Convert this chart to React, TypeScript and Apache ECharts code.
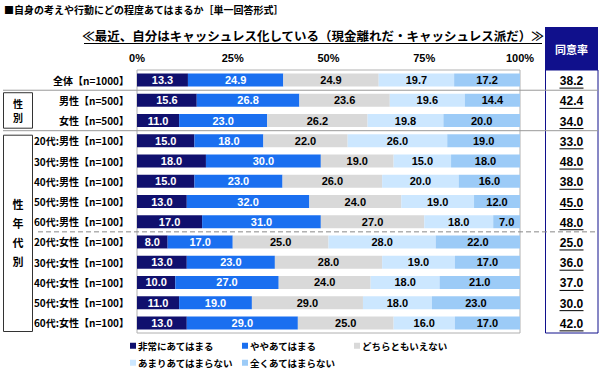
import React, { useEffect, useRef } from "react";
import * as echarts from "echarts";

const categories = [
  "全体【n=1000】",
  "男性【n=500】",
  "女性【n=500】",
  "20代:男性【n=100】",
  "30代:男性【n=100】",
  "40代:男性【n=100】",
  "50代:男性【n=100】",
  "60代:男性【n=100】",
  "20代:女性【n=100】",
  "30代:女性【n=100】",
  "40代:女性【n=100】",
  "50代:女性【n=100】",
  "60代:女性【n=100】",
];

const seriesNames = [
  "非常にあてはまる",
  "ややあてはまる",
  "どちらともいえない",
  "あまりあてはまらない",
  "全くあてはまらない",
];

const veryMuch = [13.3, 15.6, 11.0, 15, 18, 15, 13, 17, 8, 13, 10, 11, 13];
const somewhat = [24.9, 26.8, 23.0, 18, 30, 23, 32, 31, 17, 23, 27, 19, 29];
const neither = [24.9, 23.6, 26.2, 22, 19, 26, 24, 27, 25, 28, 24, 29, 25];
const notMuch = [19.7, 19.6, 19.8, 26, 15, 20, 19, 18, 28, 19, 18, 18, 16];
const notAtAll = [17.2, 14.4, 20.0, 19, 18, 16, 12, 7, 22, 17, 21, 23, 17];
const agreeRate = [38.2, 42.4, 34.0, 33, 48, 38, 45, 48, 25, 36, 37, 30, 42];

const xTicks = [0, 25, 50, 75, 100];

const colors = ["#10106e", "#1a6ff0", "#d9d9d9", "#cce7ff", "#9ccbf7"];
const labelColors = ["#ffffff", "#ffffff", "#000000", "#000000", "#000000"];

const FONT = '"Liberation Sans", "Noto Sans CJK JP", sans-serif';
const JFONT = '"Noto Sans CJK JP", "Liberation Sans", sans-serif';

const GRID_TOP = 70;
const GRID_H = 263;
const GRID_LEFT = 137;
const GRID_W = 383;

export default function App() {
  const ref = useRef<HTMLDivElement>(null);
  useEffect(() => {
    if (!ref.current) return;
    const chart = echarts.init(ref.current, null, { renderer: "svg" });
    const values = [veryMuch, somewhat, neither, notMuch, notAtAll];
    const band = GRID_H / categories.length;

    const barSeries = values.map((arr, i) => ({
      name: seriesNames[i],
      type: "bar",
      stack: "total",
      barWidth: 13,
      xAxisIndex: 0,
      yAxisIndex: 0,
      itemStyle: { color: colors[i] },
      label: {
        show: true,
        position: "inside",
        formatter: (p: any) => Number(p.value).toFixed(1),
        color: labelColors[i],
        fontFamily: FONT,
        fontWeight: "bold",
        fontSize: 11,
      },
      data: arr,
    }));

    const legendPos = [
      { left: 130, top: 341 },
      { left: 242, top: 341 },
      { left: 354, top: 341 },
      { left: 130, top: 358 },
      { left: 242, top: 358 },
    ];
    const legends = seriesNames.map((n, i) => ({
      data: [n],
      left: legendPos[i].left,
      top: legendPos[i].top,
      icon: "rect",
      itemWidth: 6,
      itemHeight: 6,
      padding: 0,
      textStyle: {
        fontFamily: JFONT,
        fontWeight: "bold",
        fontSize: 9.5,
        color: "#000",
        padding: [0, 0, 0, -3],
      },
      selectedMode: false,
    }));

    const sepY1 = GRID_TOP + band;
    const sepY2 = GRID_TOP + band * 3;
    const sepY3 = GRID_TOP + band * 8;

    chart.setOption({
      animation: false,
      grid: [
        {
          left: GRID_LEFT,
          top: GRID_TOP,
          width: GRID_W,
          height: GRID_H,
          show: true,
          borderColor: "#b0b0b0",
          borderWidth: 1,
        },
        { left: 545, top: GRID_TOP, width: 53, height: GRID_H },
      ],
      legend: legends,
      xAxis: [
        {
          type: "value",
          gridIndex: 0,
          position: "top",
          min: xTicks[0],
          max: xTicks[xTicks.length - 1],
          interval: 25,
          axisLabel: {
            formatter: "{value}%",
            fontFamily: FONT,
            fontWeight: "bold",
            fontSize: 11,
            color: "#000",
            margin: 7,
          },
          axisLine: { show: false },
          axisTick: { show: false },
          splitLine: { show: false },
        },
        { type: "value", gridIndex: 1, min: 0, max: 1, show: false },
      ],
      yAxis: [
        {
          type: "category",
          gridIndex: 0,
          inverse: true,
          data: categories,
          axisLabel: {
            fontFamily: JFONT,
            fontWeight: "bold",
            fontSize: 10,
            color: "#000",
            margin: 8,
          },
          axisLine: { show: false },
          axisTick: { show: false },
        },
        {
          type: "category",
          gridIndex: 1,
          inverse: true,
          data: categories,
          show: false,
        },
      ],
      series: [
        ...barSeries,
        {
          type: "custom",
          xAxisIndex: 1,
          yAxisIndex: 1,
          data: agreeRate.map((v, i) => [0.5, i, v]),
          renderItem: (params: any, api: any) => {
            const p = api.coord([api.value(0), api.value(1)]);
            const v = Number(api.value(2));
            return {
              type: "group",
              children: [
                {
                  type: "text",
                  x: p[0],
                  y: p[1] + 1,
                  style: {
                    text: v.toFixed(1),
                    align: "center",
                    verticalAlign: "middle",
                    font: `bold 12px ${FONT}`,
                    fill: "#000",
                  },
                },
                {
                  type: "line",
                  shape: { x1: p[0] - 12, y1: p[1] + 8, x2: p[0] + 12, y2: p[1] + 8 },
                  style: { stroke: "#000", lineWidth: 1 },
                },
              ],
            };
          },
        },
      ],
      graphic: [
        {
          type: "text",
          left: 4,
          top: 4,
          style: {
            text: "■自身の考えや行動にどの程度あてはまるか［単一回答形式］",
            font: `bold 10px ${JFONT}`,
            fill: "#000",
          },
        },
        {
          type: "text",
          x: 313,
          y: 35,
          style: {
            text: "≪最近、自分はキャッシュレス化している（現金離れだ・キャッシュレス派だ）≫",
            font: `bold 12.5px ${JFONT}`,
            fill: "#000",
            align: "center",
            verticalAlign: "middle",
          },
        },
        {
          type: "line",
          shape: { x1: 84, y1: 43.5, x2: 542, y2: 43.5 },
          style: { stroke: "#000", lineWidth: 1 },
        },
        // agree-rate header + column box
        {
          type: "rect",
          shape: { x: 545, y: 27, width: 53, height: 43 },
          style: { fill: "#10108c" },
        },
        {
          type: "text",
          x: 571.5,
          y: 48.5,
          style: {
            text: "同意率",
            font: `bold 11px ${JFONT}`,
            fill: "#fff",
            align: "center",
            verticalAlign: "middle",
          },
        },
        {
          type: "rect",
          shape: { x: 545.5, y: 70, width: 52.5, height: 263 },
          style: { fill: "none", stroke: "#10108c", lineWidth: 1 },
        },
        // separators
        {
          type: "line",
          shape: { x1: 3, y1: sepY1, x2: 598, y2: sepY1 },
          style: { stroke: "#999", lineWidth: 1 },
        },
        {
          type: "line",
          shape: { x1: 3, y1: sepY2, x2: 598, y2: sepY2 },
          style: { stroke: "#999", lineWidth: 1 },
        },
        {
          type: "line",
          shape: { x1: 38, y1: sepY3, x2: 598, y2: sepY3 },
          style: { stroke: "#888", lineWidth: 1, lineDash: [5, 3] },
        },
        // left group boxes
        {
          type: "rect",
          shape: { x: 3.5, y: sepY1 + 2.5, width: 29, height: band * 2 - 5 },
          style: { fill: "#fff", stroke: "#333", lineWidth: 1 },
        },
        {
          type: "text",
          x: 18,
          y: sepY1 + band - 7,
          style: {
            text: "性",
            font: `bold 10px ${JFONT}`,
            fill: "#000",
            align: "center",
            verticalAlign: "middle",
          },
        },
        {
          type: "text",
          x: 18,
          y: sepY1 + band + 7,
          style: {
            text: "別",
            font: `bold 10px ${JFONT}`,
            fill: "#000",
            align: "center",
            verticalAlign: "middle",
          },
        },
        {
          type: "rect",
          shape: { x: 3.5, y: sepY2 + 4.5, width: 29, height: band * 10 - 6 },
          style: { fill: "#fff", stroke: "#333", lineWidth: 1 },
        },
        {
          type: "text",
          x: 18,
          y: sepY2 + band * 5 + 1,
          style: {
            text: "性\n年\n代\n別",
            font: `bold 11px ${JFONT}`,
            lineHeight: 19,
            fill: "#000",
            align: "center",
            verticalAlign: "middle",
          },
        },
      ],
    });
    return () => chart.dispose();
  }, []);
  return (
    <div
      ref={ref}
      style={{ position: "fixed", left: 0, top: 0, width: 600, height: 371, background: "#fff" }}
    />
  );
}
